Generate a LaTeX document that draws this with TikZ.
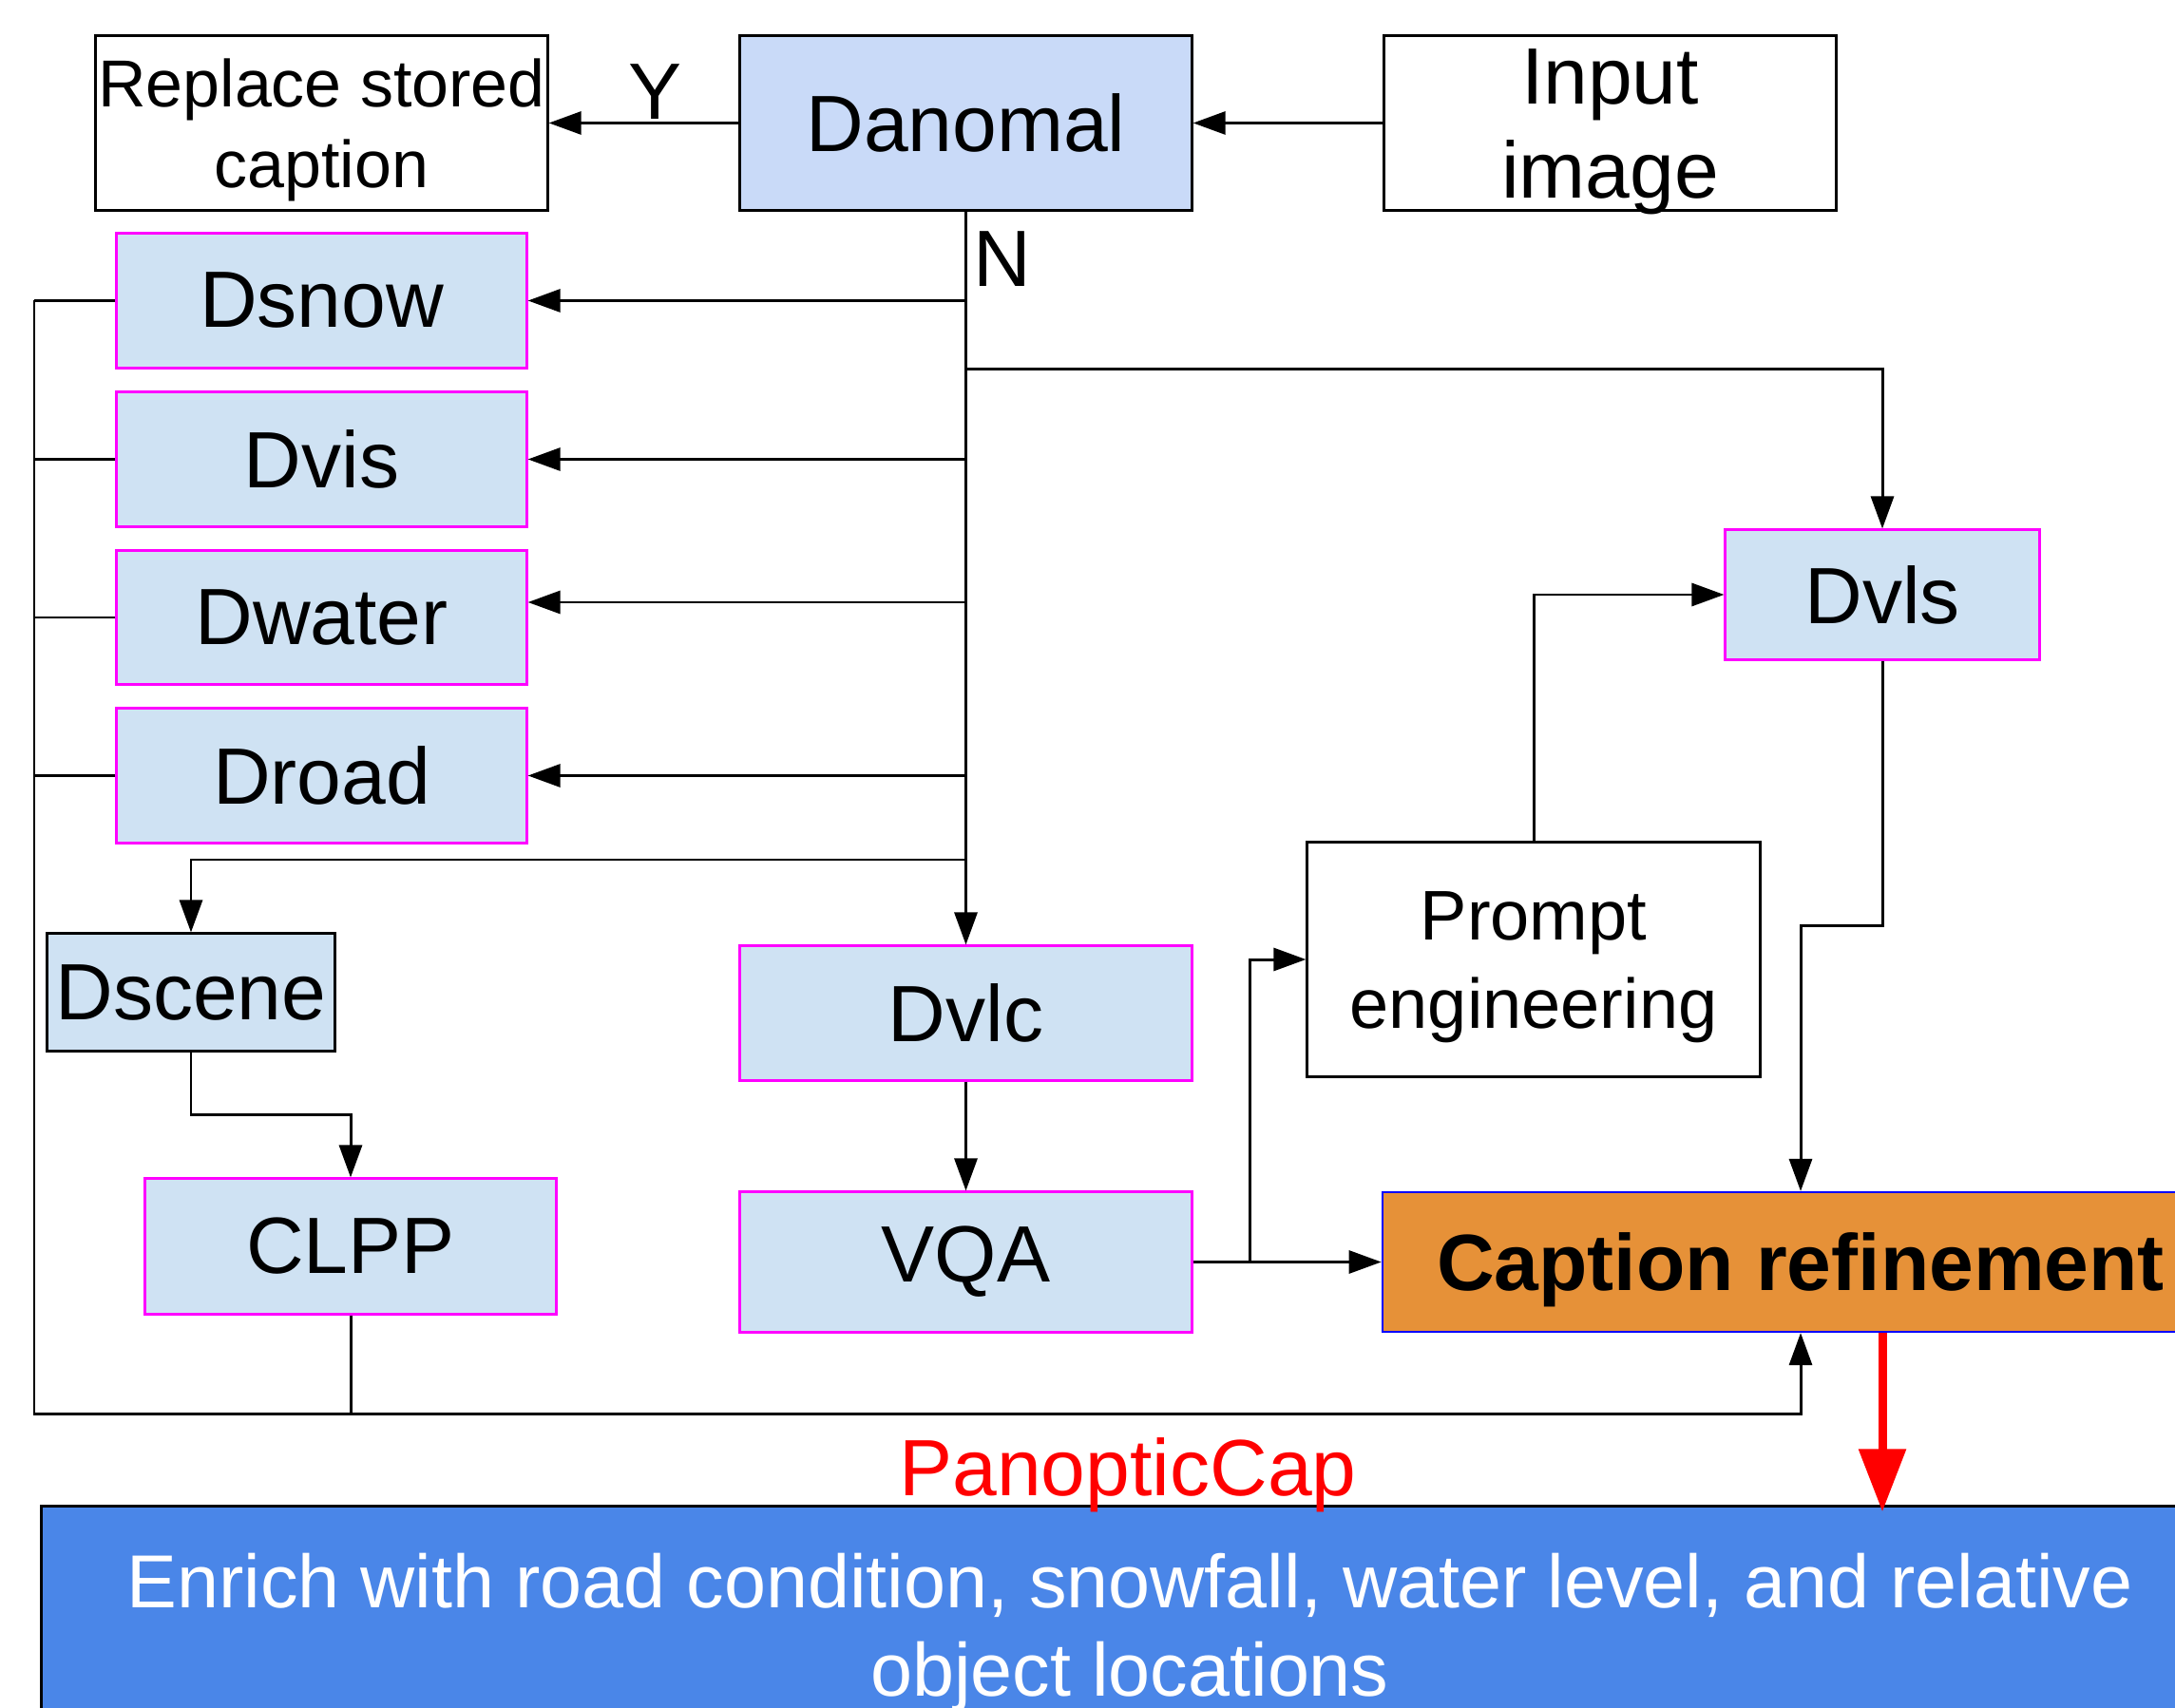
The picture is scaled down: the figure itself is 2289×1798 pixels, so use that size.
\documentclass[tikz,border=0pt]{standalone}
\usepackage{fontspec}
\setmainfont{Liberation Sans}
\usetikzlibrary{arrows.meta,calc}
\definecolor{anomfill}{HTML}{C9DAF8}
\definecolor{lbfill}{HTML}{CFE2F3}
\definecolor{mag}{HTML}{FF00FF}
\definecolor{orng}{HTML}{E69138}
\definecolor{bblue}{HTML}{0000FF}
\definecolor{enrichblue}{HTML}{4A86E8}
\definecolor{redc}{HTML}{FF0000}
\newcommand{\twoline}[2]{\begin{tabular}[t]{@{}c@{}}#1\\#2\end{tabular}}
\begin{document}
\begin{tikzpicture}[x=0.01cm,y=-0.01cm,
  nbox/.style={draw=black, line width=0.85pt, inner sep=0pt, align=center, font=\fontsize{23.9}{28.7}\selectfont},
  whitebox/.style={nbox, fill=white},
  anombox/.style={nbox, fill=anomfill},
  detbox/.style={nbox, draw=mag, fill=lbfill},
  scenebox/.style={nbox, fill=lbfill},
  conn/.style={line width=0.85pt, -{Triangle[length=0.34cm,width=0.24cm]}},
  wire/.style={line width=0.85pt},
  lbl/.style={inner sep=0pt, font=\fontsize{23.9}{28.7}\selectfont},
]
\useasboundingbox (0,0) rectangle (2289,1798);
\clip (0,0) rectangle (2289,1798);

% nodes
\node[whitebox, minimum width=4.75cm, minimum height=1.83cm, font=\fontsize{19.9}{23.9}\selectfont, text height=0.5cm, text depth=0.83cm] (repl) at (338.5,129.5) {\twoline{Replace stored}{caption}};
\node[anombox, minimum width=4.75cm, minimum height=1.83cm] (anom) at (1016.5,129.5) {Danomal};
\node[whitebox, minimum width=4.75cm, minimum height=1.83cm, font=\fontsize{23.9}{27.9}\selectfont, text height=0.5cm, text depth=0.89cm] (input) at (1694.5,129.5) {\twoline{Input}{image}};
\node[detbox, minimum width=4.31cm, minimum height=1.41cm] (snow) at (338.5,316.5) {Dsnow};
\node[detbox, minimum width=4.31cm, minimum height=1.41cm] (vis) at (338.5,483.5) {Dvis};
\node[detbox, minimum width=4.31cm, minimum height=1.40cm] (water) at (338.5,650) {Dwater};
\node[detbox, minimum width=4.31cm, minimum height=1.41cm] (road) at (338.5,816.5) {Droad};
\node[scenebox, minimum width=3.02cm, minimum height=1.23cm] (scene) at (201,1044.5) {Dscene};
\node[detbox, minimum width=4.75cm, minimum height=1.41cm] (vlc) at (1016.5,1066.5) {Dvlc};
\node[detbox, minimum width=4.75cm, minimum height=1.47cm] (vqa) at (1016.5,1328.5) {VQA};
\node[detbox, minimum width=4.32cm, minimum height=1.42cm] (clpp) at (369,1312) {CLPP};
\node[whitebox, minimum width=4.76cm, minimum height=2.46cm, font=\fontsize{21.05}{26.2}\selectfont, text height=0.5cm, text depth=0.9cm] (prompt) at (1614,1010) {\twoline{Prompt}{engineering}};
\node[detbox, minimum width=3.30cm, minimum height=1.36cm] (vls) at (1981,626) {Dvls};
\node[nbox, draw=bblue, fill=orng, line width=0.6pt, minimum width=8.80cm, minimum height=1.47cm, font=\fontsize{23.9}{28.7}\selectfont\bfseries, text depth=0pt] (cap) at (1895,1328.5) {Caption refinement};
\node[nbox, fill=enrichblue, text=white, minimum width=22.90cm, minimum height=2.64cm, font=\fontsize{22.5}{26.5}\selectfont, text height=0.5cm, text depth=1.02cm] (enrich) at (1189,1718) {\twoline{Enrich with road condition, snowfall, water level, and relative}{object locations}};

% labels
\node[lbl] (ylab) at (690,97) {Y};
\node[lbl] (nlab) at (1055,273) {N};
\node[lbl, text=redc] (pan) at (1187,1553) {PanopticCap};

% junction coordinates
\coordinate (wj) at (1016.5,634);
\coordinate (vj) at (1016.5,389);
\coordinate (sj) at (1016.5,905);
\coordinate (sc) at (201,1173);
\coordinate (pj) at (1315,1328.5);
\coordinate (lj) at (1981,974);
\coordinate (busL) at (36,1488);

% connectors
\draw[conn] (input.west) -- (anom.east);
\draw[conn] (anom.west) -- (repl.east);
\draw[conn] (anom.south) -- (vlc.north);
\draw[conn] (snow.east -| anom.south) -- (snow.east);
\draw[conn] (vis.east -| anom.south) -- (vis.east);
\draw[conn] (wj) -- (wj -| water.east);
\draw[conn] (road.east -| anom.south) -- (road.east);
\draw[conn] (vj) -| (vls.north);
\draw[conn] (sj) -| (scene.north);
\draw[conn] (scene.south) -- (sc) -| (clpp.north);
\draw[conn] (vlc.south) -- (vqa.north);
\draw[conn] (vqa.east) -- (cap.west);
\draw[conn] (pj) |- (prompt.west);
\draw[conn] (prompt.north) |- (vls.west);
\draw[conn] (vls.south) -- (lj) -| (cap.north);
\draw[wire] (snow.west) -- (snow.west -| busL);
\draw[wire] (vis.west) -- (vis.west -| busL);
\draw[wire] (water.west) -- (water.west -| busL);
\draw[wire] (road.west) -- (road.west -| busL);
\draw[conn] (snow.west -| busL) -- (busL) -| (cap.south);
\draw[wire] (clpp.south) -- (clpp.south |- busL);
\draw[line width=2.56pt, redc, -{Triangle[length=0.66cm,width=0.48cm]}, shorten >=-0.07cm] (vls.center |- cap.south) -- (vls.center |- enrich.north);
\end{tikzpicture}
\end{document}
